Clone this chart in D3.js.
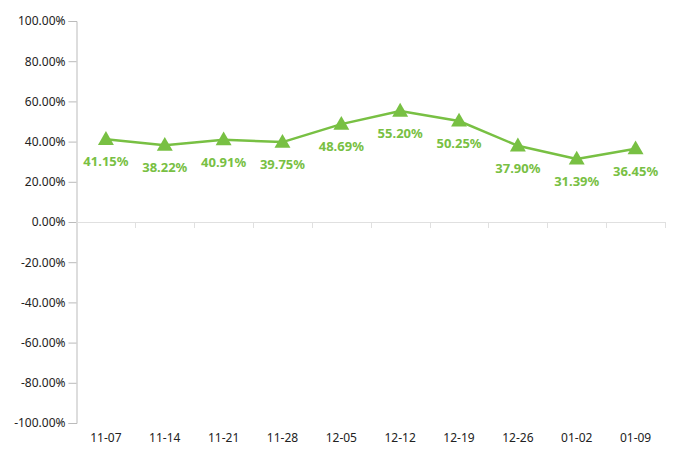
<!DOCTYPE html>
<html><head><meta charset="utf-8">
<script src="https://cdn.jsdelivr.net/npm/d3@7/dist/d3.min.js"></script>
<style>body{margin:0;background:#fff;} svg{display:block;} text{font-family:"Noto Sans",sans-serif;}</style>
</head><body>
<svg id="c" width="681" height="457"></svg>
<script>
const categories = ["11-07","11-14","11-21","11-28","12-05","12-12","12-19","12-26","01-02","01-09"];
const values = [41.15,38.22,40.91,39.75,48.69,55.20,50.25,37.90,31.39,36.45];
const yTicks = [-100,-80,-60,-40,-20,0,20,40,60,80,100];

(function () {
const svg = d3.select("#c");
const mLeft = 76.5, mRight = 665, mTop = 21, mBottom = 423;
const green = "#78c043";

const x = d3.scaleBand().domain(categories).range([mLeft, mRight]);
const y = d3.scaleLinear().domain([-100, 100]).range([mBottom, mTop]);

// y axis
const yAxis = svg.append("g").attr("transform", `translate(${mLeft},0)`)
  .call(d3.axisLeft(y).tickValues(yTicks).tickSize(8).tickPadding(3).tickFormat(d => d.toFixed(2) + "%"));
yAxis.select(".domain").attr("stroke", "#bbb");
yAxis.selectAll(".tick line").attr("stroke", "#bbb");
yAxis.selectAll("text").attr("fill", "#222").style("font-size", "12px").style("font-family", "Noto Sans");

// x axis on zero
const xAxis = svg.append("g").attr("transform", `translate(0,${y(0)})`)
  .call(d3.axisBottom(x).tickSize(0).tickFormat(""));
xAxis.select(".domain").attr("stroke", "#e0e0e0").attr("d", `M${mLeft},0.5H${mRight}`);
const bounds = categories.map(c => x(c)).concat([mRight]).slice(1);
xAxis.selectAll(".btick").data(bounds).enter().append("line")
  .attr("x1", d => Math.round(d) + 0.5).attr("x2", d => Math.round(d) + 0.5)
  .attr("y1", 0).attr("y2", 6).attr("stroke", "#e0e0e0");

// category labels at bottom
svg.append("g").selectAll("text").data(categories).enter().append("text")
  .attr("x", d => x(d) + x.bandwidth() / 2).attr("y", 442)
  .attr("text-anchor", "middle").attr("fill", "#222").style("font-size", "12px")
  .text(d => d);

// line
const line = d3.line().x((d, i) => x(categories[i]) + x.bandwidth() / 2).y(d => y(d));
svg.append("path").datum(values).attr("d", line)
  .attr("fill", "none").attr("stroke", green).attr("stroke-width", 2.5).attr("stroke-linejoin", "round");

// markers
const tri = d3.symbol().type(d3.symbolTriangle).size(110);
svg.append("g").selectAll("path").data(values).enter().append("path")
  .attr("d", tri)
  .attr("transform", (d, i) => `translate(${x(categories[i]) + x.bandwidth() / 2},${y(d) + 1})`)
  .attr("fill", green);

// labels
svg.append("g").selectAll("text").data(values).enter().append("text")
  .attr("x", (d, i) => x(categories[i]) + x.bandwidth() / 2)
  .attr("y", d => y(d) + 27)
  .attr("text-anchor", "middle").attr("fill", green)
  .style("font-size", "13px").style("font-weight", "bold")
  .text(d => d.toFixed(2) + "%");
})();
</script>
</body></html>
